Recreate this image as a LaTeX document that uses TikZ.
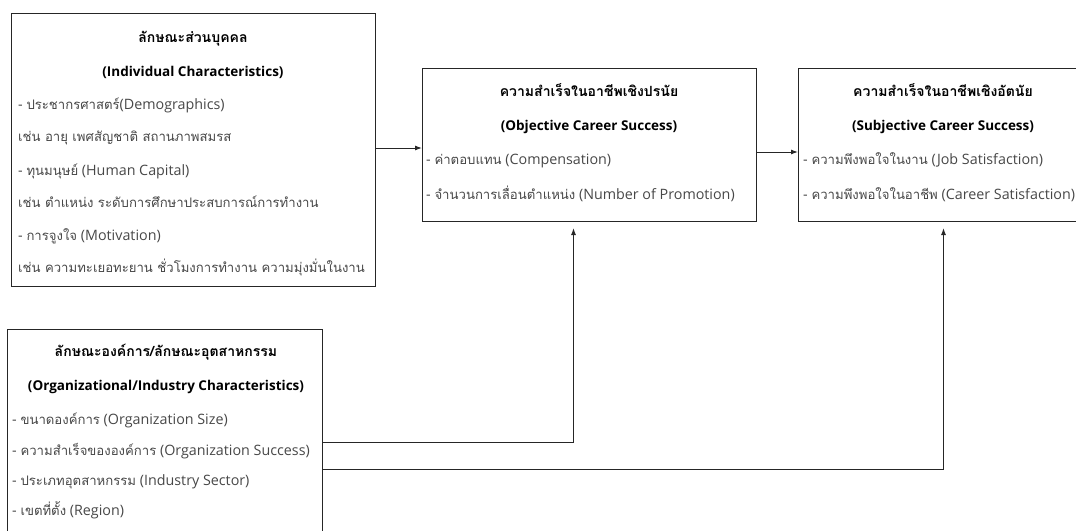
\documentclass[tikz,border=0pt]{standalone}
\usepackage{fontspec}
\setmainfont{Open Sans}
\newfontfamily\thaifont[Script=Thai,Scale=0.92]{Loma}
\newfontfamily\thaibold[Script=Thai,Scale=1.04]{Loma}
\newcommand{\tai}[1]{{\thaifont #1}}
\newcommand{\taitit}[1]{{\thaibold\bfseries #1}}
\usetikzlibrary{arrows.meta}

\begin{document}
\begin{tikzpicture}[x=1pt,y=-1pt,
  caixa/.style={draw=black!85, line width=1pt, anchor=north west, inner sep=0pt},
  titulo/.style={font=\fontsize{13.5}{17}\selectfont\bfseries, text height=12pt, text depth=4pt, inner sep=0pt},
  item/.style={font=\fontsize{14.3}{17}\selectfont, text=black!72, anchor=west, text height=12pt, text depth=4pt, inner sep=0pt},
  seta/.style={draw=black!85, line width=1pt, -{Latex[length=7pt,width=5pt]}}]
\clip (0,0) rectangle (1076,530);
% Caixas
\node[caixa, minimum width=364pt, minimum height=273pt] (indiv) at (11,13) {};
\node[caixa, minimum width=334pt, minimum height=153pt] (obj) at (422,68) {};
\node[caixa, minimum width=290pt, minimum height=153pt] (subj) at (798,68) {};
\node[caixa, minimum width=315pt, minimum height=226pt] (org) at (7,329) {};
% Textos - caracteristicas individuais
\node[titulo] (indivT) at (193,38) {\taitit{ลักษณะส่วนบุคคล}};
\node[titulo] (indivS) at (193,72) {(Individual Characteristics)};
\node[item] (indiv1) at (18,105) {- \tai{ประชากรศาสตร์}(Demographics)};
\node[item] (indiv2) at (18,137) {\tai{เช่น อายุ เพศสัญชาติ สถานภาพสมรส}};
\node[item] (indiv3) at (18,171) {- \tai{ทุนมนุษย์} (Human Capital)};
\node[item] (indiv4) at (18,203) {\tai{เช่น ตำแหน่ง ระดับการศึกษาประสบการณ์การทำงาน}};
\node[item] (indiv5) at (18,236) {- \tai{การจูงใจ} (Motivation)};
\node[item] (indiv6) at (18,268) {\tai{เช่น ความทะเยอทะยาน ชั่วโมงการทำงาน ความมุ่งมั่นในงาน}};
% Textos - sucesso objetivo
\node[titulo] (objT) at (589,92) {\taitit{ความสำเร็จในอาชีพเชิงปรนัย}};
\node[titulo] (objS) at (589,126) {(Objective Career Success)};
\node[item] (obj1) at (426,160) {- \tai{ค่าตอบแทน} (Compensation)};
\node[item] (obj2) at (426,195) {- \tai{จำนวนการเลื่อนตำแหน่ง} (Number of Promotion)};
% Textos - sucesso subjetivo
\node[titulo] (subjT) at (943,92) {\taitit{ความสำเร็จในอาชีพเชิงอัตนัย}};
\node[titulo] (subjS) at (943,126) {(Subjective Career Success)};
\node[item] (subj1) at (803,160) {- \tai{ความพึงพอใจในงาน} (Job Satisfaction)};
\node[item] (subj2) at (803,195) {- \tai{ความพึงพอใจในอาชีพ} (Career Satisfaction)};
% Textos - organizacao
\node[titulo] (orgT) at (166,352) {\taitit{ลักษณะองค์การ/ลักษณะอุตสาหกรรม}};
\node[titulo] (orgS) at (166,386) {(Organizational/Industry Characteristics)};
\node[item] (org1) at (12,420) {- \tai{ขนาดองค์การ} (Organization Size)};
\node[item] (org2) at (12,451) {- \tai{ความสำเร็จขององค์การ} (Organization Success)};
\node[item] (org3) at (12,481) {- \tai{ประเภทอุตสาหกรรม} (Industry Sector)};
\node[item] (org4) at (12,511) {- \tai{เขตที่ตั้ง} (Region)};
% Setas
\draw[seta] ([yshift=2pt]indiv.east) -- ([yshift=2pt]indiv.east -| obj.west);
\draw[seta] ([yshift=-7pt]obj.east) -- ([yshift=-7pt]obj.east -| subj.west);
\draw[seta] (org.east) -| ([xshift=-16pt,yshift=-6pt]obj.south);
\draw[seta] ([yshift=-27pt]org.east) -| ([yshift=-6pt]subj.south);
\end{tikzpicture}
\end{document}
